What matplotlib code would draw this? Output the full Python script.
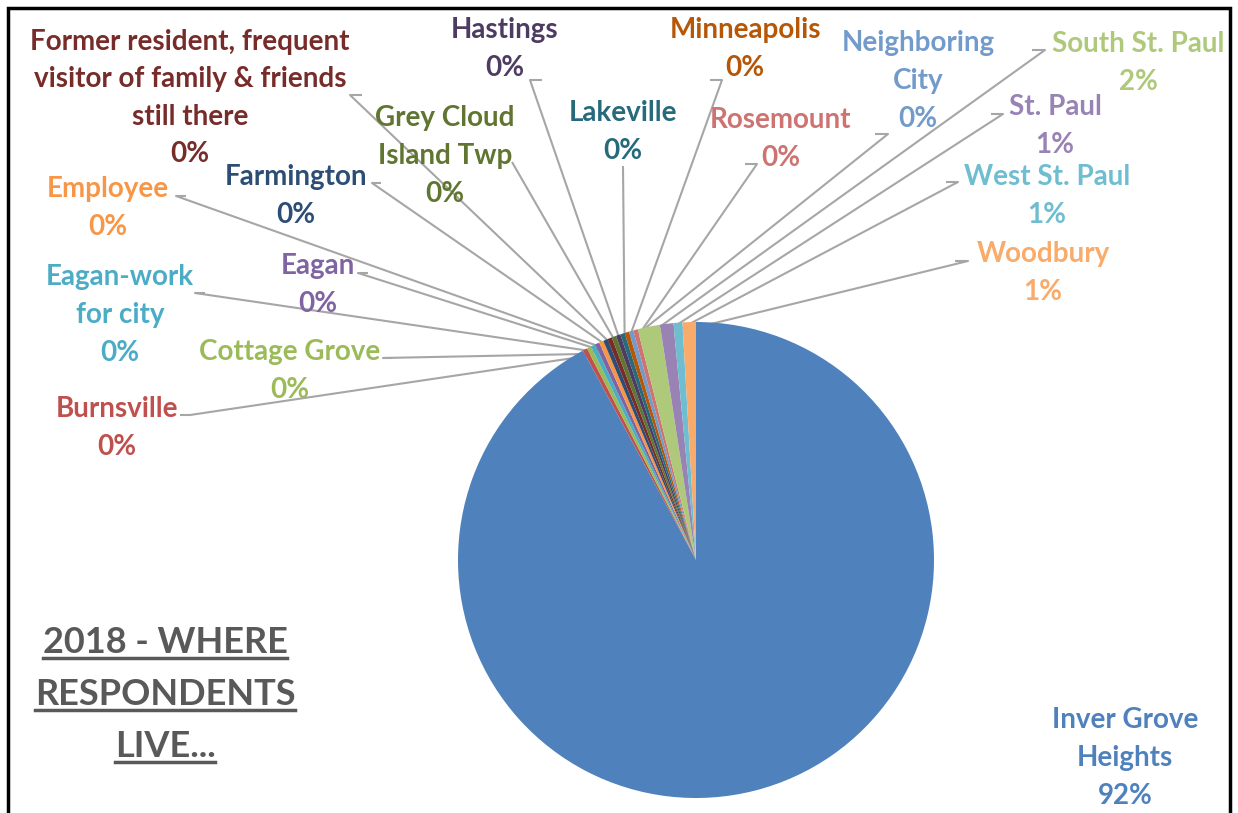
import matplotlib
matplotlib.use('Agg')
import matplotlib.pyplot as plt
from matplotlib.patches import Rectangle
import numpy as np

W, H = 1238, 813

# data: respondent counts by place
places = ['Inver Grove\nHeights', 'Burnsville', 'Cottage Grove', 'Eagan-work\nfor city',
          'Eagan', 'Employee', 'Farmington',
          'Former resident, frequent\nvisitor of family & friends\nstill there',
          'Grey Cloud\nIsland Twp', 'Hastings', 'Lakeville', 'Minneapolis',
          'Neighboring\nCity', 'Rosemount', 'South St. Paul', 'St. Paul',
          'West St. Paul', 'Woodbury']
counts = [304, 1, 1, 1, 1, 1, 1, 1, 1, 1, 1, 1, 1, 1, 5, 3, 2, 3]

colors = ['#4F81BD', '#C0504D', '#9BBB59', '#4BACC6', '#8064A2', '#F79646',
          '#2C4D75', '#772C2A', '#5F7530', '#4D3B62', '#276A7C', '#B65708',
          '#729ACA', '#CD7371', '#AFC97A', '#9983B5', '#6FBDD1', '#F9AB6B']

title_lines = ['2018 - WHERE', 'RESPONDENTS', 'LIVE...']

# layout (pixel coords): label centre, leader hook start, hook end
label_pos = [
    (1125, 758, None),
    (117, 428, ((190, 415), (180, 415))),
    (290, 371, ((383, 358), (392, 358))),
    (120, 315, ((195, 293), (205, 293))),
    (318, 285, ((358, 273), (368, 273))),
    (108, 208, ((176, 196), (186, 196))),
    (296, 196, ((372, 183), (381, 183))),
    (190, 98, ((350, 95), (362, 95))),
    (445, 156, ((512, 162), (512, 162))),
    (505, 49, ((530, 80), (542, 80))),
    (623, 132, ((623, 166), (623, 166))),
    (745, 49, ((722, 80), (710, 80))),
    (918, 81, ((888, 134), (875, 134))),
    (781, 139, ((757, 164), (745, 164))),
    (1138, 63, ((1045, 50), (1032, 50))),
    (1055, 126, ((1003, 114), (991, 114))),
    (1047, 196, ((958, 182), (946, 182))),
    (1043, 273, ((968, 261), (955, 261))),
]

cx, cy, r = 696, 560, 238


def Y(py):
    return H - py


fig = plt.figure(figsize=(W / 100, H / 100), dpi=100)
ax = fig.add_axes([0, 0, 1, 1])

wedges, _ = ax.pie(counts, colors=colors, startangle=90, counterclock=False,
                   center=(cx, Y(cy)), radius=r,
                   wedgeprops=dict(linewidth=0))
ax.set_xlim(0, W)
ax.set_ylim(0, H)
ax.set_aspect('auto')
ax.axis('off')

total = sum(counts)
for i, (w, name) in enumerate(zip(wedges, places)):
    pct = counts[i] / total * 100
    lx, ly, hook = label_pos[i]
    ax.text(lx, Y(ly), f'{name}\n{pct:.0f}%', ha='center', va='center',
            color=colors[i], fontsize=20, fontweight='bold', family='Lato',
            linespacing=1.55)
    if hook is None:
        continue
    mid = np.deg2rad((w.theta1 + w.theta2) / 2)
    ex = cx + r * 0.97 * np.cos(mid)
    ey = Y(cy) + r * 0.97 * np.sin(mid)
    (hx, hy), (tx, ty) = hook
    ax.plot([ex, hx, tx], [ey, Y(hy), Y(ty)], color='#A6A6A6', lw=1.5,
            solid_capstyle='butt', zorder=0)

# title block, underlined
fig.canvas.draw()
renderer = fig.canvas.get_renderer()
for k, line in enumerate(title_lines):
    t = ax.text(165, Y(642 + k * 52), line, ha='center', va='center',
                color='#595959', fontsize=26, fontweight='bold', family='Lato')
    bb = t.get_window_extent(renderer)
    yb = bb.y0 + 1
    ax.plot([bb.x0, bb.x1], [yb, yb], color='#595959', lw=2.5)

fig.patches.append(Rectangle((8, -10), 1222, H - 8 + 10, transform=None,
                             fill=False, edgecolor='black', lw=2.5))

fig.savefig('out.png', dpi=100, facecolor='white')
